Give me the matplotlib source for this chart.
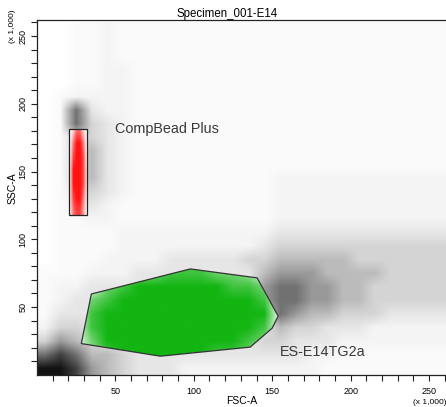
import numpy as np
import matplotlib
matplotlib.use('Agg')
import matplotlib.pyplot as plt
from matplotlib.patches import Polygon, Rectangle
from matplotlib.colors import to_rgb

plt.rcParams['font.family'] = ['Liberation Sans', 'DejaVu Sans']

title = 'Specimen_001-E14'
x_label = 'FSC-A'
y_label = 'SSC-A'
scale_note = '(x 1,000)'
axis_max = 262.144
tick_values = list(range(10, 261, 10))
labelled_ticks = [50, 100, 150, 200, 250]

# gates, in units of 1,000
gate_name = 'ES-E14TG2a'
gate_x = [34.7, 97.8, 140.4, 153.8, 150.0, 136.0, 78.7, 28.3]
gate_y = [59.6, 78.1, 71.5, 43.3, 34.4, 20.4, 13.7, 23.0]
bead_name = 'CompBead Plus'
bead_x = [20.2, 32.2]
bead_y = [117.6, 181.1]

# event density: 0 = empty ... 9 = solid
# all events, 10 x 10 cells, x 0..270, rows from y 260 down to 0
all_events = [
    '001121111111111111111111111',
    '001121111111111111111111111',
    '001121111111111111111111111',
    '001122111111111111111111111',
    '001122111111111111111111111',
    '012222111111111111111111111',
    '017322111111111111111111111',
    '017432111111111111111111111',
    '014432111111111111111111111',
    '014532111111111111111111111',
    '014532111111111111111111111',
    '014532111111111222222222222',
    '013432111111111222222222222',
    '012321111111111222222222222',
    '011221111111111222222222222',
    '011112222222222333333333333',
    '011112222222223444444444444',
    '011122223333344555554444444',
    '111222333333335666555544444',
    '122333333333336776655444444',
    '123333333333336776655444444',
    '133333333333333765544433333',
    '244333333333333544333222222',
    '465433333333334433322222222',
    '787554333333333332211111111',
    '998654333222222222111111111',
]
# gated cells (green), x 20..160, rows from y 80 down to 0
gate_events = [
    '00067788877600',
    '00789999998870',
    '07899999999980',
    '08999999999990',
    '08999999999980',
    '07999999999870',
    '06899999988700',
    '05788888877600',
]
# bead cells (red), x 20..32 in steps of 2, rows from y 185 down to 115
bead_events = [
    '047740',
    '279972',
    '389983',
    '499984',
    '499984',
    '489973',
    '378862',
]

ALPHA = np.array([0, .02, .045, .1, .17, .27, .4, .56, .75, .93])


def density_image(rows, color):
    lv = np.array([[int(c) for c in r] for r in rows])
    img = np.zeros(lv.shape + (4,))
    img[..., :3] = to_rgb(color)
    img[..., 3] = ALPHA[lv]
    return img


fig = plt.figure(figsize=(4.46, 4.07), dpi=100)
ax = fig.add_axes([36.9 / 446, 32.25 / 407, 411.2 / 446, 355.2 / 407])

ax.imshow(density_image(all_events, 'black'), extent=(0, 270, 0, 260),
          origin='upper', interpolation='bilinear', aspect='auto', zorder=1)

gate_xy = np.column_stack([gate_x, gate_y])
gate_fill = Polygon(gate_xy, closed=True, facecolor='white', edgecolor='none', zorder=2)
ax.add_patch(gate_fill)
bead_fill = Rectangle((bead_x[0], bead_y[0]), bead_x[1] - bead_x[0], bead_y[1] - bead_y[0],
                      facecolor='white', edgecolor='none', zorder=2)
ax.add_patch(bead_fill)

im_g = ax.imshow(density_image(gate_events, '#00b000'), extent=(20, 160, 0, 80),
                 origin='upper', interpolation='bilinear', aspect='auto', zorder=3)
im_g.set_clip_path(gate_fill)
im_r = ax.imshow(density_image(bead_events, '#ff0000'), extent=(20, 32, 115, 185),
                 origin='upper', interpolation='bilinear', aspect='auto', zorder=3)
im_r.set_clip_path(bead_fill)

ax.add_patch(Polygon(gate_xy, closed=True, facecolor='none', edgecolor='#333333',
                     lw=0.9, zorder=4))
ax.add_patch(Rectangle((bead_x[0], bead_y[0]), bead_x[1] - bead_x[0], bead_y[1] - bead_y[0],
                       facecolor='none', edgecolor='#222222', lw=0.9, zorder=4))

ax.text(49.8, 181.4, bead_name, fontsize=10.4, color='#3a3a3a', ha='left', va='center', zorder=5)
ax.text(155, 17.0, gate_name, fontsize=10.4, color='#3a3a3a', ha='left', va='center', zorder=5)

ax.set_xlim(0, axis_max)
ax.set_ylim(0, axis_max)
tick_text = [str(t) if t in labelled_ticks else '' for t in tick_values]
ax.set_xticks(tick_values)
ax.set_xticklabels(tick_text)
ax.set_yticks(tick_values)
ax.set_yticklabels(tick_text)
ax.tick_params(direction='out', length=4.5, width=0.8, labelsize=6.5, color='#222222')
ax.tick_params(axis='x', pad=4)
ax.tick_params(axis='y', pad=2.5)
plt.setp(ax.get_yticklabels(), rotation=90, va='center', ha='right')
for s in ['left', 'bottom', 'top']:
    ax.spines[s].set_linewidth(0.9)
    ax.spines[s].set_color('#222222')
ax.spines['right'].set_visible(False)

fig.text(227 / 446, 1 - 13.5 / 407, title, fontsize=8.3, ha='center', va='center')
fig.text(242 / 446, 1 - 401 / 407, x_label, fontsize=7.5, ha='center', va='center')
fig.text(13 / 446, 1 - 188 / 407, y_label, fontsize=7.5, rotation=90, ha='center', va='center')
fig.text(413 / 446, 1 - 402 / 407, scale_note, fontsize=6, ha='left', va='center')
fig.text(13 / 446, 1 - 26 / 407, scale_note, fontsize=6, rotation=90, ha='center', va='center')

fig.savefig('out.png', dpi=100)
